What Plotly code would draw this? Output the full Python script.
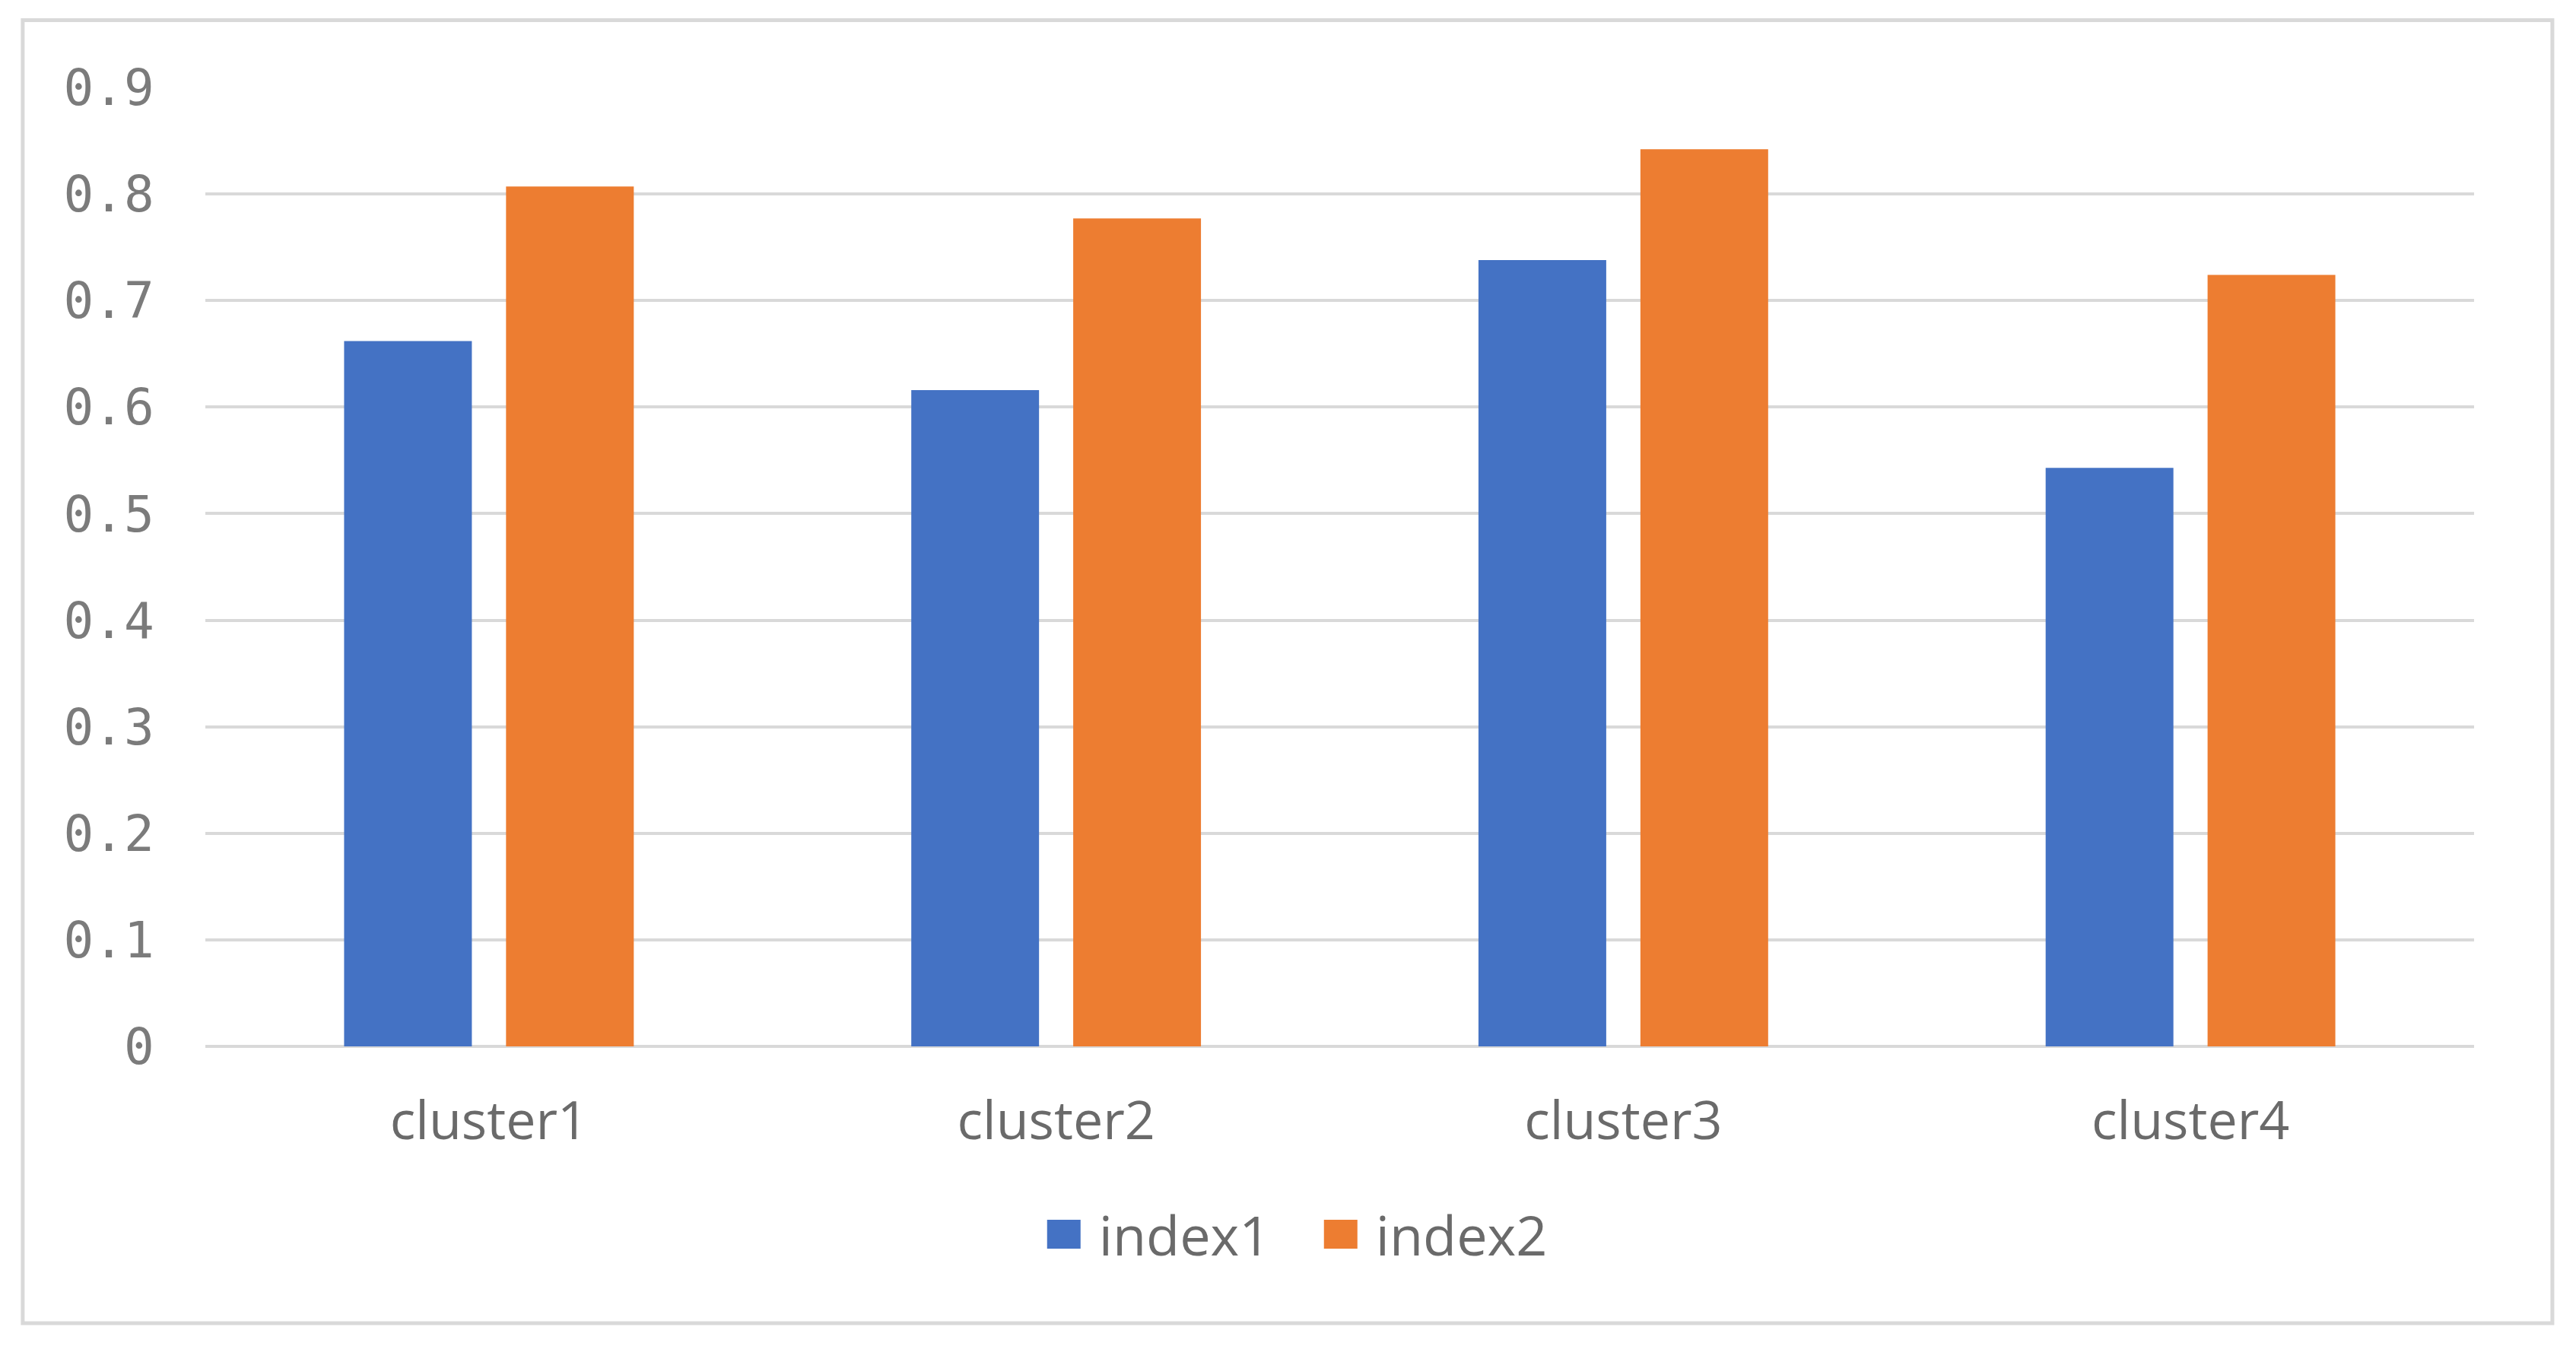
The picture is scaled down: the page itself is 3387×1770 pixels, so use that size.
import plotly.graph_objects as go

categories = ["cluster1", "cluster2", "cluster3", "cluster4"]
index1 = [0.662, 0.616, 0.738, 0.543]
index2 = [0.807, 0.777, 0.842, 0.724]
series_names = ["index1", "index2"]
series_colors = ["#4472C4", "#ED7D31"]
y_ticks = [0, 0.1, 0.2, 0.3, 0.4, 0.5, 0.6, 0.7, 0.8, 0.9]
y_tick_labels = ["0", "0.1", "0.2", "0.3", "0.4", "0.5", "0.6", "0.7", "0.8", "0.9"]

fig = go.Figure()
for name, vals, col in zip(series_names, [index1, index2], series_colors):
    fig.add_trace(go.Bar(x=categories, y=vals, name=name,
                         marker=dict(color=col, line=dict(width=0))))

# page body has an 8px default margin; size the figure so it fits the window
W, H = 3371, 1754
L, R, T, B = 262, 126, 107, 386

fig.update_layout(
    width=W, height=H,
    margin=dict(l=L, r=R, t=T, b=B, autoexpand=False),
    paper_bgcolor="white", plot_bgcolor="white",
    barmode="group", bargap=0.429, bargroupgap=0.211,
    showlegend=True,
    legend=dict(orientation="h", x=0.485, xanchor="center", y=-0.196, yanchor="middle",
                font=dict(family="Open Sans", size=72, color="#6a6a6a"),
                itemwidth=82, entrywidth=267, entrywidthmode="pixels",
                bgcolor="rgba(0,0,0,0)"),
    xaxis=dict(showgrid=False, showline=False, zeroline=False,
               ticks="outside", ticklen=37, tickcolor="rgba(0,0,0,0)",
               tickfont=dict(family="Open Sans", size=70, color="#6a6a6a")),
    yaxis=dict(range=[0, 0.9], tickvals=y_ticks, ticktext=y_tick_labels,
               showgrid=True, gridcolor="#d9d9d9", gridwidth=4,
               zeroline=True, zerolinecolor="#d9d9d9", zerolinewidth=4,
               showline=False,
               ticks="outside", ticklen=53, tickcolor="rgba(0,0,0,0)",
               tickfont=dict(family="DejaVu Sans Mono", size=66, color="#7b7b7b")),
    shapes=[dict(type="rect", xref="paper", yref="paper",
                 x0=-0.0805, x1=1.0345, y0=-0.2887, y1=1.0702,
                 line=dict(color="#d9d9d9", width=5), fillcolor="rgba(0,0,0,0)",
                 layer="below")],
)

post_script = """
var gd = document.getElementById('{plot_id}');
function enlargeLegendIcons() {
  gd.querySelectorAll('g.legendpoints path').forEach(function (p) {
    p.setAttribute('d', 'M22,19H-22V-19H22Z');
  });
}
enlargeLegendIcons();
if (gd.on) { gd.on('plotly_afterplot', enlargeLegendIcons); }
"""

fig.write_html("out.html", post_script=post_script)
